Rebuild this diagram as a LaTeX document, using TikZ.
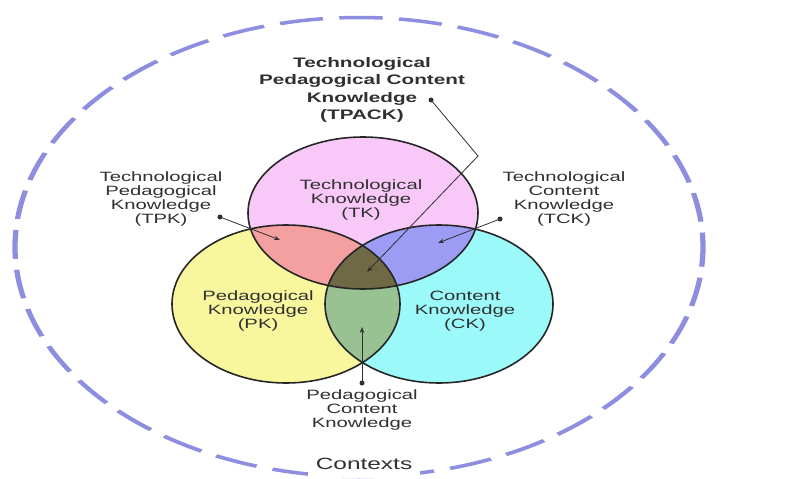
\documentclass[tikz,border=0pt]{standalone}
\usepackage{fontspec}
\setmainfont{Liberation Sans}
\usetikzlibrary{arrows.meta}
\definecolor{pkc}{HTML}{F9F79E}
\definecolor{ckc}{HTML}{9CF9FA}
\definecolor{tkc}{HTML}{F8C8F8}
\definecolor{tpc}{HTML}{F4A0A0}
\definecolor{tcc}{HTML}{9C9CF4}
\definecolor{pcc}{HTML}{98C292}
\definecolor{allc}{HTML}{6F6945}
\definecolor{edgec}{HTML}{262626}
\definecolor{outerc}{HTML}{8E8EE0}
\definecolor{txtc}{HTML}{303030}
\begin{document}
\begin{tikzpicture}[x=1pt,y=-1pt,
  lbl/.style={align=center, font=\fontsize{13.5}{14.3}\selectfont, text=txtc, xscale=1.5, inner sep=0pt},
  boldlbl/.style={align=center, font=\fontsize{13.8}{17.3}\selectfont\bfseries, text=txtc, xscale=1.5, inner sep=0pt},
  ctxlbl/.style={font=\fontsize{16.3}{18}\selectfont, text=txtc, xscale=1.5, fill=white, inner xsep=5pt, inner ysep=8pt},
  venn/.style={draw=edgec, line width=1.6pt},
  pointer/.style={draw=txtc, line width=0.8pt, -{Stealth[length=6pt,width=4.5pt]}},
  dotmark/.style={fill=txtc},
  outerline/.style={draw=outerc, line width=3.5pt, dash pattern=on 28.9pt off 11pt, dash phase=14.45pt}]
\useasboundingbox (0,0) rectangle (795,479);
\fill[white] (0,0) rectangle (795,479);
\def\TKpath{(363,213) ellipse [x radius=115pt, y radius=76pt]}
\def\PKpath{(286,304) ellipse [x radius=114pt, y radius=79pt]}
\def\CKpath{(439,304) ellipse [x radius=114pt, y radius=79pt]}
% outer context
\begin{scope}[transform canvas={xscale=1.5}]
  \draw[outerline] (239.33,247) ellipse [x radius=229.33pt, y radius=229.5pt];
\end{scope}
% regions
\fill[pkc] \PKpath;
\fill[ckc] \CKpath;
\fill[tkc] \TKpath;
\begin{scope}\clip \TKpath; \fill[tpc] \PKpath; \end{scope}
\begin{scope}\clip \TKpath; \fill[tcc] \CKpath; \end{scope}
\begin{scope}\clip \PKpath; \fill[pcc] \CKpath; \end{scope}
\begin{scope}\clip \TKpath; \clip \PKpath; \fill[allc] \CKpath; \end{scope}
\draw[venn] \TKpath;
\draw[venn] \PKpath;
\draw[venn] \CKpath;
% labels
\node[boldlbl] (tpack) at (362,90) {Technological\\Pedagogical Content\\Knowledge\\(TPACK)};
\node[lbl] (tk) at (361,200) {Technological\\Knowledge\\(TK)};
\node[lbl] (tpk) at (161,199) {Technological\\Pedagogical\\Knowledge\\(TPK)};
\node[lbl] (tck) at (564,199) {Technological\\Content\\Knowledge\\(TCK)};
\node[lbl] (pk) at (258,311) {Pedagogical\\Knowledge\\(PK)};
\node[lbl] (ck) at (465,311) {Content\\Knowledge\\(CK)};
\node[lbl] (pck) at (362,410) {Pedagogical\\Content\\Knowledge};
\node[ctxlbl] (ctx) at (364,464) {Contexts};
% connectors
\coordinate (tpackdot) at (431,100);
\coordinate (tpackbend) at (478,156);
\coordinate (tpacktip) at (367,272);
\coordinate (tpkdot) at (220,217);
\coordinate (tpktip) at (280,240);
\coordinate (tckdot) at (500,219);
\coordinate (tcktip) at (438,243);
\coordinate (pckdot) at (362,383);
\coordinate (pcktip) at (362,327);
\draw[pointer] (tpackdot) -- (tpackbend) -- (tpacktip);
\draw[pointer] (tpkdot) -- (tpktip);
\draw[pointer] (tckdot) -- (tcktip);
\draw[pointer] (pckdot) -- (pcktip);
\fill[dotmark] (tpackdot) circle (2.5pt);
\fill[dotmark] (tpkdot) circle (2.5pt);
\fill[dotmark] (tckdot) circle (2.5pt);
\fill[dotmark] (pckdot) circle (2.5pt);
\end{tikzpicture}
\end{document}
